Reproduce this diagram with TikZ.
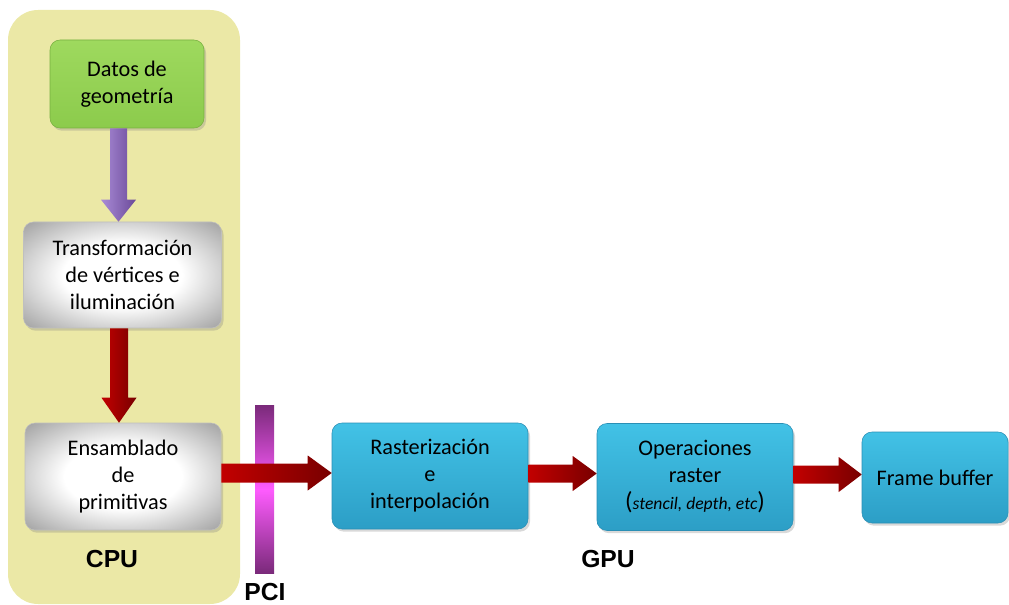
\documentclass[tikz,border=0pt]{standalone}
\usepackage{fontspec}
\setmainfont{Carlito}
\newfontfamily\labfont{Liberation Sans}
\usetikzlibrary{calc,shadows}
\newdimen\pxu \pxu=0.75pt
\definecolor{panelc}{HTML}{EBE8A6}
\definecolor{greentop}{HTML}{9ED95E}
\definecolor{greenbot}{HTML}{8CCB4C}
\definecolor{greenline}{HTML}{78B040}
\definecolor{cyantop}{HTML}{42C2E6}
\definecolor{cyanbot}{HTML}{2C9EC6}
\definecolor{cyanline}{HTML}{2A8FB5}
\definecolor{redl}{HTML}{C20000}
\definecolor{redr}{HTML}{780000}
\definecolor{purl}{HTML}{A98BD6}
\definecolor{purr}{HTML}{6B4A99}
\definecolor{pcidark}{HTML}{7A2A7A}
\definecolor{pcilight}{HTML}{FF5CFF}
\pgfdeclareradialshading{grayglow}{\pgfpoint{0bp}{0bp}}{color(0bp)=(white); color(15bp)=(white); color(36bp)=(black!38); color(50bp)=(black!52); color(100bp)=(black!52)}
\tikzset{
  box/.style={rounded corners=10\pxu, align=center, inner sep=0pt,
    font=\fontsize{16.7}{20.25}\selectfont,
    drop shadow={shadow xshift=1.5pt, shadow yshift=-2pt, opacity=0.3}},
  greenbox/.style={box, draw=greenline, top color=greentop, bottom color=greenbot},
  graybox/.style={box, draw=black!25, shading=grayglow},
  cyanbox/.style={box, draw=cyanline, top color=cyantop, bottom color=cyanbot},
  redarrow/.style={left color=redl, right color=redr},
  redarrowv/.style={left color=#1, right color=redr},
  purarrow/.style={left color=purl, right color=purr},
  lab/.style={font=\labfont\bfseries\fontsize{18.5}{20}\selectfont, inner sep=0pt},
}
\newcommand\fatarrowH[6]{%
  \shade[#6] ($(#1)+(0,-#3)$) -- ($(#2)+(-#5,-#3)$) -- ($(#2)+(-#5,-#4)$) -- (#2)
    -- ($(#2)+(-#5,#4)$) -- ($(#2)+(-#5,#3)$) -- ($(#1)+(0,#3)$) -- cycle;}
\newcommand\fatarrowV[6]{%
  \shade[#6] ($(#1)+(-#3,0)$) -- ($(#2)+(-#3,-#5)$) -- ($(#2)+(-#4,-#5)$) -- (#2)
    -- ($(#2)+(#4,-#5)$) -- ($(#2)+(#3,-#5)$) -- ($(#1)+(#3,0)$) -- cycle;}
\begin{document}
\begin{tikzpicture}[x=0.75pt,y=-0.75pt]
\useasboundingbox (0,0) rectangle (1009,605);
% CPU panel
\node[fill=panelc, rounded corners=30\pxu, minimum width=232\pxu, minimum height=594\pxu, inner sep=0pt] (cpupanel) at (124,307) {};
% boxes
\node[greenbox, minimum width=154\pxu, minimum height=88\pxu] (geo) at (127,84) {Datos de\\geometría};
\node[graybox, minimum width=198\pxu, minimum height=106\pxu] (trans) at (122.5,275) {Transformación\\de vértices e\\iluminación};
\node[graybox, minimum width=196\pxu, minimum height=107\pxu] (ens) at (123,476.5) {Ensamblado\\de\\primitivas};
% PCI bar
\node[top color=pcidark, bottom color=pcidark, middle color=pcilight, minimum width=19\pxu, minimum height=168\pxu, inner sep=0pt] (pci) at (264.5,489) {};
\node[lab] (pcilab) at (265,592.5) {PCI};
\node[cyanbox, minimum width=196\pxu, minimum height=106\pxu] (rast) at (430,476) {Rasterización\\e\\interpolación};
\node[cyanbox, minimum width=196\pxu, minimum height=107\pxu] (ops) at (695,477) {Operaciones\\raster\\{\fontsize{18.5}{20}\selectfont(}{\itshape\fontsize{13.2}{20}\selectfont stencil, depth, etc}{\fontsize{18.5}{20}\selectfont)}};
\node[cyanbox, minimum width=146\pxu, minimum height=91\pxu] (fb) at (935,477.5) {Frame buffer};
% labels
\node[lab] (cpulab) at (112,559) {CPU};
\node[lab] (gpulab) at (608,559) {GPU};
% arrows
\coordinate (a1s) at ($(geo.south)+(-8.5,0)$);
\coordinate (a1e) at (a1s |- trans.north);
\fatarrowV{a1s}{a1e}{8.5}{17.5}{22}{purarrow}
\coordinate (a2s) at ($(trans.south)+(-3.5,0)$);
\coordinate (a2e) at (a2s |- ens.north);
\fatarrowV{a2s}{a2e}{9}{17.5}{25}{redarrowv=redl}
\coordinate (a3s) at ($(ens.east)+(0,-3.5)$);
\coordinate (a3e) at (a3s -| rast.west);
\fatarrowH{a3s}{a3e}{9.5}{17.5}{24}{redarrow}
\coordinate (a4s) at ($(rast.east)+(0,-2.5)$);
\coordinate (a4e) at (a4s -| ops.west);
\fatarrowH{a4s}{a4e}{9}{17.5}{24}{redarrow}
\coordinate (a5s) at ($(ops.east)+(0,-2.5)$);
\coordinate (a5e) at (a5s -| fb.west);
\fatarrowH{a5s}{a5e}{9}{17.5}{23}{redarrow}
\end{tikzpicture}
\end{document}
